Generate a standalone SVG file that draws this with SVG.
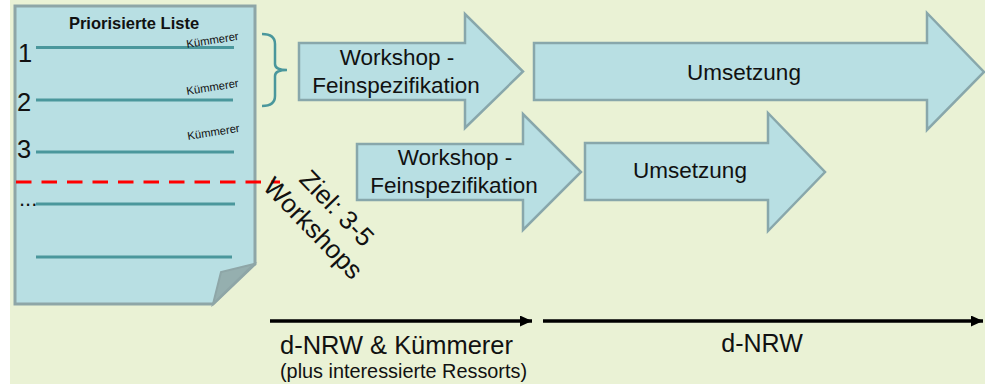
<svg xmlns="http://www.w3.org/2000/svg" width="985" height="384" viewBox="0 0 985 384">
<style>
.bg{fill:#EAF2D5}
.blk{fill:#B8DFE3;stroke:#88A7AB;stroke-width:2.5;stroke-linejoin:miter}
.t{font-family:"Liberation Sans",Arial,sans-serif;fill:#111}
.lt{font-size:22.5px;text-anchor:middle}
.row{stroke:#4A979C;stroke-width:3}
.kum{font-size:11.3px}
.num{font-size:25.5px}
.conn{stroke:#000;stroke-width:3.5;fill:none}
</style>
<defs>
<marker id="ah" markerUnits="userSpaceOnUse" markerWidth="13" markerHeight="11" refX="12" refY="5.5" orient="auto">
<path d="M0,0 L12,5.5 L0,11 Z" fill="#000"/>
</marker>
</defs>
<rect x="0" y="0" width="985" height="384" fill="#fff"/>
<rect class="bg" x="10" y="0" width="975" height="384"/>

<g id="liste">
<path d="M15,6 H255 V264 L213,304 H15 Z" fill="#B8DFE3" stroke="#8EA6A7" stroke-width="3"/>
<path d="M254,264 L221,272 L213,304 Z" fill="#95AFAF" stroke="#8EA6A7" stroke-width="2"/>
<text class="t" x="134" y="29" font-size="16.5" font-weight="bold" text-anchor="middle">Priorisierte Liste</text>
<line class="row" x1="36" y1="47.5" x2="234" y2="47.5"/>
<line class="row" x1="36" y1="100" x2="233" y2="100"/>
<line class="row" x1="36" y1="152" x2="234" y2="152"/>
<line class="row" x1="36" y1="204" x2="235" y2="204"/>
<line class="row" x1="36" y1="257" x2="232" y2="257"/>
<text class="t num" x="18" y="62">1</text>
<text class="t num" x="17" y="111">2</text>
<text class="t num" x="17" y="158">3</text>
<text class="t" x="19" y="206" font-size="22">...</text>
<text class="t kum" transform="translate(187,48) rotate(-9)">Kümmerer</text>
<text class="t kum" transform="translate(187,95) rotate(-9)">Kümmerer</text>
<text class="t kum" transform="translate(188,140) rotate(-9)">Kümmerer</text>
</g>

<g id="grenze">
<line x1="16" y1="182" x2="280" y2="182" stroke="#FF0000" stroke-width="3.2" stroke-dasharray="15.5,10"/>
</g>

<g id="klammer">
<path d="M262,34 Q275,34 275,44 V64 Q275,70 287,70 Q275,70 275,76 V96 Q275,106 262,106" fill="none" stroke="#4A979C" stroke-width="2.5"/>
</g>

<g id="ziel">
<g transform="translate(337,208) rotate(46)">
<text class="t" x="0" y="9" font-size="26" text-anchor="middle">Ziel: 3-5</text>
<text class="t" x="-2" y="40" font-size="26" text-anchor="middle">Workshops</text>
</g>
</g>

<g id="workshop1">
<path class="blk" d="M299,43 H465 V14 L523,71.5 L465,128 V100 H299 Z"/>
<text class="t lt" x="397" y="65">Workshop -</text>
<text class="t lt" x="396" y="93">Feinspezifikation</text>
</g>

<g id="umsetzung1">
<path class="blk" d="M534,43 H927 V13 L984,72 L927,130 V100 H534 Z"/>
<text class="t lt" x="744" y="80">Umsetzung</text>
</g>

<g id="workshop2">
<path class="blk" d="M357,144 H523 V114 L581,172 L523,230 V200 H357 Z"/>
<text class="t lt" x="455" y="165">Workshop -</text>
<text class="t lt" x="454" y="193">Feinspezifikation</text>
</g>

<g id="umsetzung2">
<path class="blk" d="M585,143 H768 V113 L825,172 L768,231 V200 H585 Z"/>
<text class="t lt" x="690" y="178">Umsetzung</text>
</g>

<g id="connectors">
<line class="conn" x1="270" y1="321" x2="532" y2="321" marker-end="url(#ah)"/>
<line class="conn" x1="543" y1="321" x2="983" y2="321" marker-end="url(#ah)"/>
</g>

<g id="labels">
<text class="t" x="280" y="354" font-size="25" textLength="233" lengthAdjust="spacingAndGlyphs">d-NRW &amp; Kümmerer</text>
<text class="t" x="280" y="378" font-size="19.5" textLength="247" lengthAdjust="spacingAndGlyphs">(plus interessierte Ressorts)</text>
<text class="t" x="762" y="352" font-size="25" text-anchor="middle">d-NRW</text>
</g>
</svg>
